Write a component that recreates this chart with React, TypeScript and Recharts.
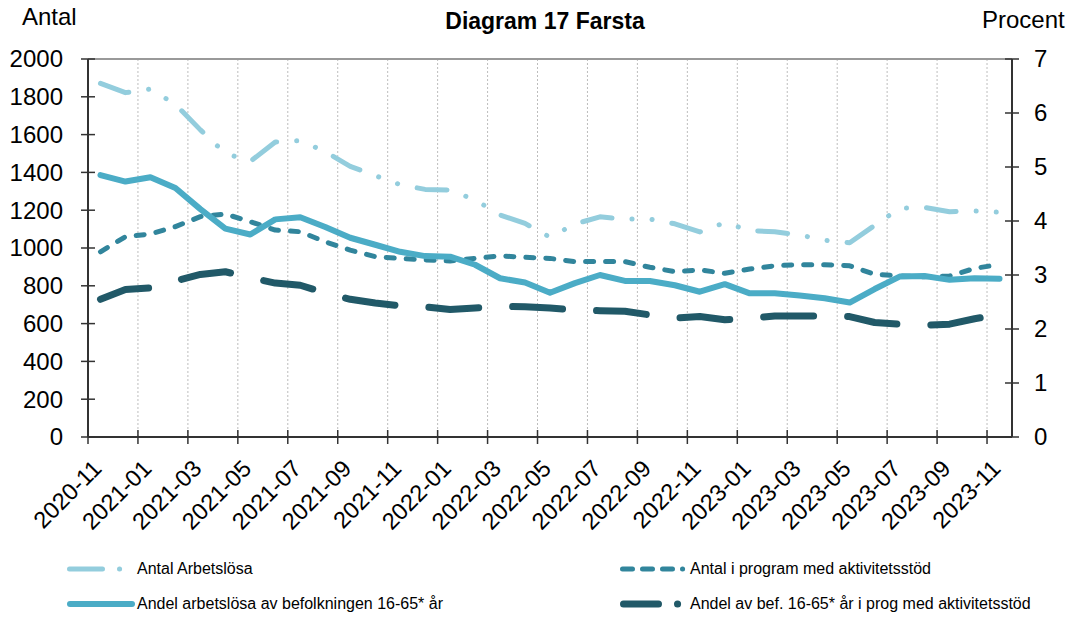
import { CartesianGrid, Line, LineChart, ReferenceLine, XAxis, YAxis } from "recharts";

const WIDTH = 1074;
const HEIGHT = 618;
const FONT = "'Liberation Sans', Arial, sans-serif";

const months = [
  "2020-11", "2020-12", "2021-01", "2021-02", "2021-03", "2021-04", "2021-05", "2021-06",
  "2021-07", "2021-08", "2021-09", "2021-10", "2021-11", "2021-12", "2022-01", "2022-02",
  "2022-03", "2022-04", "2022-05", "2022-06", "2022-07", "2022-08", "2022-09", "2022-10",
  "2022-11", "2022-12", "2023-01", "2023-02", "2023-03", "2023-04", "2023-05", "2023-06",
  "2023-07", "2023-08", "2023-09", "2023-10", "2023-11",
];

const antalArbetslosa = [
  1871, 1822, 1841, 1760, 1625, 1501, 1458, 1561, 1568, 1510, 1432, 1383, 1335, 1310, 1307,
  1254, 1175, 1130, 1057, 1127, 1165, 1153, 1153, 1128, 1085, 1134, 1092, 1086, 1069, 1041,
  1028, 1120, 1210, 1215, 1192, 1196, 1189,
];

const antalProgram = [
  980, 1060, 1074, 1113, 1166, 1180, 1139, 1095, 1086, 1033, 989, 954, 945, 937, 931, 945,
  958, 951, 945, 928, 928, 928, 898, 875, 884, 866, 889, 906, 912, 912, 906, 861, 852, 848,
  852, 892, 913,
];

const andelArbetslosa = [
  4.85, 4.73, 4.81, 4.61, 4.22, 3.86, 3.75, 4.03, 4.07, 3.89, 3.69, 3.56, 3.43, 3.35, 3.34,
  3.19, 2.94, 2.86, 2.67, 2.85, 3.0, 2.89, 2.89, 2.81, 2.69, 2.83, 2.66, 2.66, 2.62, 2.57,
  2.49, 2.74, 2.97, 2.98, 2.91, 2.94, 2.93,
];

const andelProgram = [
  2.55, 2.73, 2.76, 2.89, 3.01, 3.06, 2.95, 2.85, 2.81, 2.67, 2.55, 2.48, 2.43, 2.41, 2.36,
  2.39, 2.42, 2.41, 2.39, 2.35, 2.34, 2.33, 2.26, 2.2, 2.23, 2.17, 2.2, 2.24, 2.24, 2.24,
  2.23, 2.12, 2.09, 2.07, 2.09, 2.19, 2.27,
];

const leftTicks = [0, 200, 400, 600, 800, 1000, 1200, 1400, 1600, 1800, 2000];
const rightTicks = [0, 1, 2, 3, 4, 5, 6, 7];
const monthTicks = months.map((_, i) => i).filter((i) => i % 2 === 0);

// points sit in the middle of each month slot, ticks on the slot edges
const data = months.map((month, i) => ({
  x: i + 0.5,
  month,
  antalArbetslosa: antalArbetslosa[i],
  antalProgram: antalProgram[i],
  andelArbetslosa: andelArbetslosa[i],
  andelProgram: andelProgram[i],
}));

const series = [
  {
    key: "antalArbetslosa",
    name: "Antal Arbetslösa",
    axis: "left",
    color: "#93CDDD",
    width: 5,
    dash: "30 20 0.1 20 0.1 20",
    legendDash: "33 17 0.1 100",
    legend: { left: 67, top: 569 },
  },
  {
    key: "antalProgram",
    name: "Antal i program med aktivitetsstöd",
    axis: "left",
    color: "#31859C",
    width: 5,
    dash: "8 12",
    legendDash: "10 10 10 10 10 10 0.1 100",
    legend: { left: 620, top: 569 },
  },
  {
    key: "andelArbetslosa",
    name: "Andel arbetslösa av befolkningen 16-65* år",
    axis: "right",
    color: "#4BACC6",
    width: 6,
    dash: undefined,
    legendDash: undefined,
    legend: { left: 67, top: 604 },
  },
  {
    key: "andelProgram",
    name: "Andel av bef. 16-65* år i prog med aktivitetsstöd",
    axis: "right",
    color: "#215968",
    width: 7,
    dash: "50 34",
    legendDash: "35 19 0.1 100",
    legend: { left: 620, top: 604 },
  },
];

const AXIS_COLOR = "#333";

function LeftTick(props: any) {
  const { x, y, payload } = props;
  const axisX = x + 25;
  return (
    <g>
      <line x1={axisX - 7} x2={axisX + 7} y1={y} y2={y} stroke={AXIS_COLOR} strokeWidth={1.5} />
      <text x={x} y={y} dy="0.35em" textAnchor="end" fontSize={24} fontFamily={FONT} fill="#000">
        {payload.value}
      </text>
    </g>
  );
}

function RightTick(props: any) {
  const { x, y, payload } = props;
  const axisX = x - 22;
  return (
    <g>
      <line x1={axisX - 7} x2={axisX + 7} y1={y} y2={y} stroke={AXIS_COLOR} strokeWidth={1.5} />
      <text x={x} y={y} dy="0.35em" textAnchor="start" fontSize={24} fontFamily={FONT} fill="#000">
        {payload.value}
      </text>
    </g>
  );
}

function BottomTick(props: any) {
  const { x, y, payload } = props;
  const axisY = y - 7;
  const lx = x + 15;
  const ly = axisY + 33;
  return (
    <g>
      <line x1={x} x2={x} y1={axisY - 7} y2={axisY + 7} stroke={AXIS_COLOR} strokeWidth={1.5} />
      <text
        x={lx}
        y={ly}
        textAnchor="end"
        fontSize={23.5}
        fontFamily={FONT}
        fill="#000"
        transform={`rotate(-45, ${lx}, ${ly})`}
      >
        {months[payload.value]}
      </text>
    </g>
  );
}

function LegendItems() {
  return (
    <>
      {series.map((s) => (
        <div
          key={s.key}
          style={{
            position: "absolute",
            left: s.legend.left,
            top: s.legend.top - 10,
            height: 20,
            display: "flex",
            alignItems: "center",
            fontFamily: FONT,
            fontSize: 16,
            color: "#000",
            whiteSpace: "nowrap",
          }}
        >
          <svg width={70} height={20} style={{ display: "block" }}>
            <line
              x1={s.width / 2}
              x2={68 - s.width / 2}
              y1={10}
              y2={10}
              stroke={s.color}
              strokeWidth={s.width}
              strokeLinecap="round"
              strokeDasharray={s.legendDash}
            />
          </svg>
          <span>{s.name}</span>
        </div>
      ))}
    </>
  );
}

export default function App() {
  return (
    <div
      style={{
        position: "absolute",
        left: 0,
        top: 0,
        width: WIDTH,
        height: HEIGHT,
        background: "#fff",
        overflow: "hidden",
      }}
    >
      <div
        style={{
          position: "absolute",
          left: 0,
          width: WIDTH,
          top: 8,
          textAlign: "center",
          fontFamily: FONT,
          fontWeight: "bold",
          fontSize: 23,
          paddingLeft: 8,
        }}
      >
        Diagram 17 Farsta
      </div>
      <div style={{ position: "absolute", left: 22, top: 3, fontFamily: FONT, fontSize: 24 }}>
        Antal
      </div>
      <div style={{ position: "absolute", left: 982, top: 6, fontFamily: FONT, fontSize: 24 }}>
        Procent
      </div>

      <div style={{ position: "absolute", left: 0, top: 0 }}>
        <LineChart width={WIDTH} height={HEIGHT} data={data} margin={{ top: 59, right: 0, left: 0, bottom: 0 }}>
          <CartesianGrid
            horizontal={false}
            vertical
            stroke="#bdbdbd"
            strokeDasharray="2 2"
            strokeWidth={1}
          />
          <XAxis
            dataKey="x"
            type="number"
            domain={[0, months.length]}
            ticks={monthTicks}
            interval={0}
            height={HEIGHT - 437}
            tickSize={7}
            tickMargin={0}
            tickLine={false}
            axisLine={{ stroke: AXIS_COLOR, strokeWidth: 2 }}
            tick={<BottomTick />}
          />
          <YAxis
            yAxisId="left"
            orientation="left"
            domain={[0, 2000]}
            ticks={leftTicks}
            width={88}
            tickSize={7}
            tickMargin={18}
            tickLine={false}
            axisLine={{ stroke: AXIS_COLOR, strokeWidth: 2 }}
            tick={<LeftTick />}
          />
          <YAxis
            yAxisId="right"
            orientation="right"
            domain={[0, 7]}
            ticks={rightTicks}
            width={WIDTH - 1012}
            tickSize={7}
            tickMargin={15}
            tickLine={false}
            axisLine={{ stroke: AXIS_COLOR, strokeWidth: 2 }}
            tick={<RightTick />}
          />
          <ReferenceLine yAxisId="left" y={2000} stroke="#999" strokeWidth={2} />
          {series.map((s) => (
            <Line
              key={s.key}
              yAxisId={s.axis}
              dataKey={s.key}
              name={s.name}
              type="linear"
              stroke={s.color}
              strokeWidth={s.width}
              strokeDasharray={s.dash}
              strokeLinecap="round"
              strokeLinejoin="round"
              dot={false}
              activeDot={false}
              isAnimationActive={false}
            />
          ))}
        </LineChart>
      </div>

      <LegendItems />
    </div>
  );
}
